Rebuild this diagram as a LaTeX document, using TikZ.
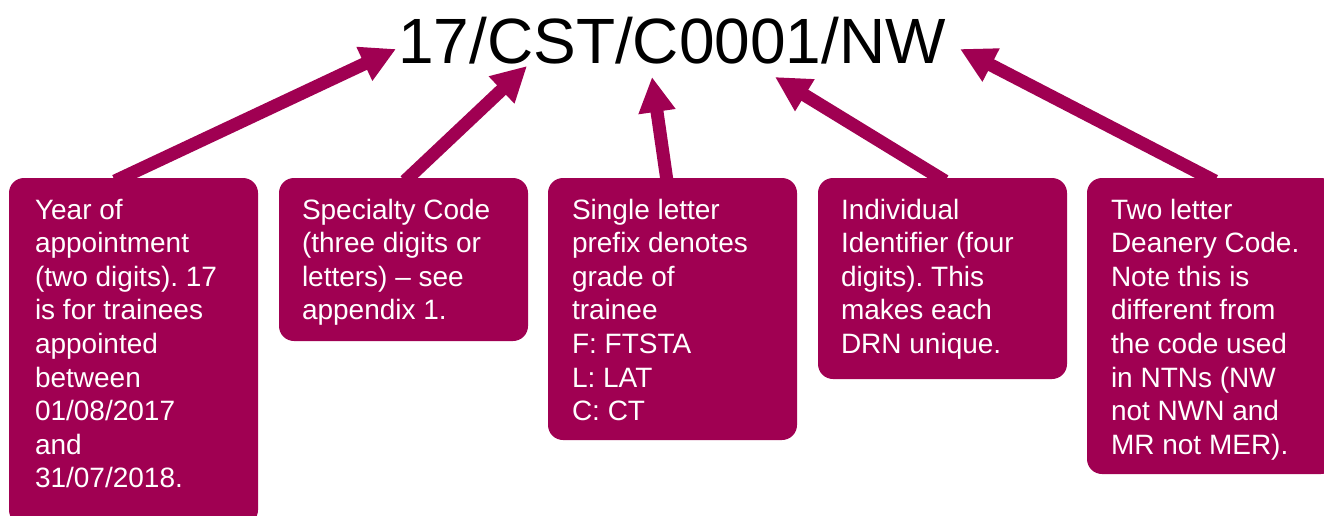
\documentclass[tikz,border=0pt]{standalone}
\usepackage{fontspec}
\setmainfont{Liberation Sans}
\usetikzlibrary{arrows.meta}
\definecolor{berry}{RGB}{160,0,82}
\frenchspacing
\tikzset{
  box/.style={fill=berry, rounded corners=15pt, minimum width=249pt, anchor=north west, inner sep=0pt, outer sep=0pt},
  boxtext/.style={anchor=base west, inner sep=0pt, outer sep=0pt, text=white},
  pointer/.style={draw=berry, line width=13pt, -{Triangle[length=35pt,width=35pt]}},
}
\newcommand{\boxlines}[1]{\parbox[t]{240pt}{\fontsize{28}{33.6}\selectfont\frenchspacing\raggedright #1}}
\begin{document}
\begin{tikzpicture}[x=1pt,y=-1pt]
\clip (0,0) rectangle (1324,516);
\fill[white] (0,0) rectangle (1324,516);
% title
\node[anchor=base west, inner sep=0pt, font=\fontsize{64}{70}\selectfont] (title) at (398,64) {17/CST/C0001/NW};
% boxes
\node[box, minimum height=347pt] (b1) at (9,178) {};
\node[box, minimum height=163pt] (b2) at (279,178) {};
\node[box, minimum height=262pt] (b3) at (548,178) {};
\node[box, minimum height=201pt] (b4) at (818,178) {};
\node[box, minimum height=296pt] (b5) at (1087,178) {};
% texts
\node[boxtext] (t1) at (35,219) {\boxlines{Year of\\appointment\\(two digits). 17\\is for trainees\\appointed\\between\\01/08/2017\\and\\31/07/2018.}};
\node[boxtext] (t2) at (302,219) {\boxlines{Specialty Code\\(three digits or\\letters) – see\\appendix 1.}};
\node[boxtext] (t3) at (572,219) {\boxlines{Single letter\\prefix denotes\\grade of\\trainee\\F: FTSTA\\L: LAT\\C: CT}};
\node[boxtext] (t4) at (841,219) {\boxlines{Individual\\Identifier (four\\digits). This\\makes each\\DRN unique.}};
\node[boxtext] (t5) at (1111,219) {\boxlines{Two letter\\Deanery Code.\\Note this is\\different from\\the code used\\in NTNs (NW\\not NWN and\\MR not MER).}};
% arrow ends
\coordinate (s1) at (115,181);
\coordinate (s2) at (405,181);
\coordinate (s3) at (667,181);
\coordinate (s4) at (945,181);
\coordinate (s5) at (1215,181);
\coordinate (p1) at (396,49);
\coordinate (p2) at (527,66);
\coordinate (p3) at (652,77);
\coordinate (p4) at (775,77);
\coordinate (p5) at (960,49);
\draw[pointer] (s1) -- (p1);
\draw[pointer] (s2) -- (p2);
\draw[pointer] (s3) -- (p3);
\draw[pointer] (s4) -- (p4);
\draw[pointer] (s5) -- (p5);
\end{tikzpicture}
\end{document}
